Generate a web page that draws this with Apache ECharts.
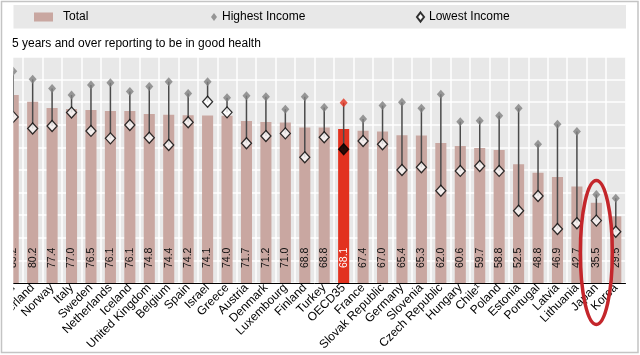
<!DOCTYPE html>
<html><head><meta charset="utf-8">
<script src="https://cdn.jsdelivr.net/npm/echarts@6/dist/echarts.min.js"></script>
<style>html,body{margin:0;padding:0;background:#fff}#c{width:640px;height:355px}</style>
</head><body><div id="c"></div>
<script>
const categories = ['Ireland','Switzerland','Norway','Italy','Sweden','Netherlands','Iceland','United Kingdom','Belgium','Spain','Israel','Greece','Austria','Denmark','Luxembourg','Finland','Turkey','OECD35','France','Slovak Republic','Germany','Slovenia','Czech Republic','Hungary','Chile¹','Poland','Estonia','Portugal','Latvia','Lithuania','Japan','Korea'];
const total = [83.2,80.2,77.4,77.0,76.5,76.1,76.1,74.8,74.4,74.2,74.1,74.0,71.7,71.2,71.0,68.8,68.8,68.1,67.4,67.0,65.4,65.3,62.0,60.6,59.7,58.8,52.5,48.8,46.9,42.7,35.5,29.5];
const highest = [93.7,90.1,86.1,83.2,87.6,88.6,84.7,86.9,89.1,83.9,89.1,82.0,82.9,82.4,76.9,82.4,77.7,79.8,72.6,78.5,80.0,77.3,83.5,71.4,71.8,74.0,77.3,61.4,70.2,67.0,39.2,37.5];
const lowest = [73.5,68.4,69.5,75.4,67.3,64.0,69.9,64.3,61.1,71.1,80.2,75.5,61.8,65.0,66.2,55.6,64.5,59.2,62.8,61.4,50.0,51.2,40.8,49.6,51.8,49.6,32.0,38.5,23.9,26.4,27.6,22.7];
const highlight = 'OECD35';
const circled = 'Japan';

const BAR = '#c9a7a1', RED = '#e2321f';
const FONT = 'Liberation Sans';
const chart = echarts.init(document.getElementById('c'), null, {renderer:'canvas'});

chart.setOption({
  animation:false,
  title:{text:'5 years and over reporting to be in good health', left:12, top:38, padding:0,
    textStyle:{fontFamily:FONT, fontSize:12, fontWeight:'normal', color:'#000'}},
  legend:[
    {data:[{name:'Total', icon:'rect'}], left:34, top:11, padding:0, itemWidth:19, itemHeight:9, itemGap:0,
     textStyle:{fontFamily:FONT, fontSize:12, color:'#000', padding:[0,0,0,5]}},
    {data:[{name:'Highest Income', icon:'diamond'}], left:211, top:11, padding:0, itemWidth:6, itemHeight:8,
     textStyle:{fontFamily:FONT, fontSize:12, color:'#000'}},
    {data:[{name:'Lowest Income', icon:'diamond'}], left:416, top:11, padding:0, itemWidth:7, itemHeight:9,
     textStyle:{fontFamily:FONT, fontSize:12, color:'#000'}}
  ],
  grid:{left:3.5, right:14.5, top:57, bottom:72, show:true, backgroundColor:'#e8e8e8', borderWidth:0,
    containLabel:false, outerBoundsMode:'none'},
  xAxis:{type:'category', data:categories,
    axisLine:{lineStyle:{color:'#000', width:1}},
    axisTick:{length:4, interval:0, lineStyle:{color:'#000'}},
    splitLine:{show:true, interval:0, lineStyle:{color:'#ffffff', width:1.5}},
    axisLabel:{rotate:45, interval:0, fontFamily:FONT, fontSize:12, color:'#000', margin:3, hideOverlap:false}},
  yAxis:{type:'value', min:0, max:100, interval:10,
    axisLabel:{show:false}, axisLine:{show:false}, axisTick:{show:false},
    splitLine:{lineStyle:{color:'#ffffff', width:1.5}}},
  series:[
    {name:'Total', type:'bar', barWidth:'57%', z:2,
     itemStyle:{color:BAR},
     data: total.map((v,i)=> categories[i]===highlight ? {value:v, itemStyle:{color:RED}, label:{color:'#fff'}} : v),
     label:{show:true, position:'insideBottom', rotate:90, align:'left', verticalAlign:'middle', distance:15,
       fontFamily:FONT, fontSize:10.5, color:'#111', formatter:p=>p.value.toFixed(1)}},
    {name:'range', type:'custom', z:3,
     data: categories.map((c,i)=>[i, highest[i], lowest[i]]),
     encode:{x:0, y:[1,2]},
     renderItem:function(params, api){
       const i = api.value(0);
       const p1 = api.coord([i, api.value(1)]);
       const p2 = api.coord([i, api.value(2)]);
       return {type:'line', shape:{x1:p1[0], y1:p1[1], x2:p2[0], y2:p2[1]}, style:{stroke:'#4a4a4a', lineWidth:1.5}};
     }},
    {name:'Highest Income', type:'scatter', symbol:'diamond', symbolSize:[8,9], z:4,
     itemStyle:{color:'#7f7f7f'},
     data: highest.map((v,i)=> categories[i]===highlight ? {value:v, itemStyle:{color:RED}} : v)},
    {name:'Lowest Income', type:'scatter', symbol:'diamond', symbolSize:[10,11], z:5,
     itemStyle:{color:'#ffffff', borderColor:'#000', borderWidth:1.3},
     data: lowest.map((v,i)=> categories[i]===highlight ? {value:v, itemStyle:{color:'#000'}} : v)}
  ]
});

const ci = categories.indexOf(circled);
const ec = chart.convertToPixel({gridIndex:0}, [ci, 13.5]);
chart.setOption({graphic:[
  {type:'rect', z:-10, silent:true, shape:{x:13.5, y:5, width:612.5, height:23.5}, style:{fill:'#e8e8e8'}},
  {type:'rect', z:100, silent:true, shape:{x:0, y:50, width:13.3, height:305}, style:{fill:'#ffffff'}},
  {type:'rect', z:101, silent:true, shape:{x:1.5, y:1.5, width:636.5, height:351}, style:{fill:null, stroke:'#c4c4c4', lineWidth:1.5}},
  {type:'ellipse', z:102, silent:true, shape:{cx:ec[0], cy:ec[1], rx:16, ry:72}, style:{fill:null, stroke:'#c4262b', lineWidth:3.5}}
]});
</script>
</body></html>
